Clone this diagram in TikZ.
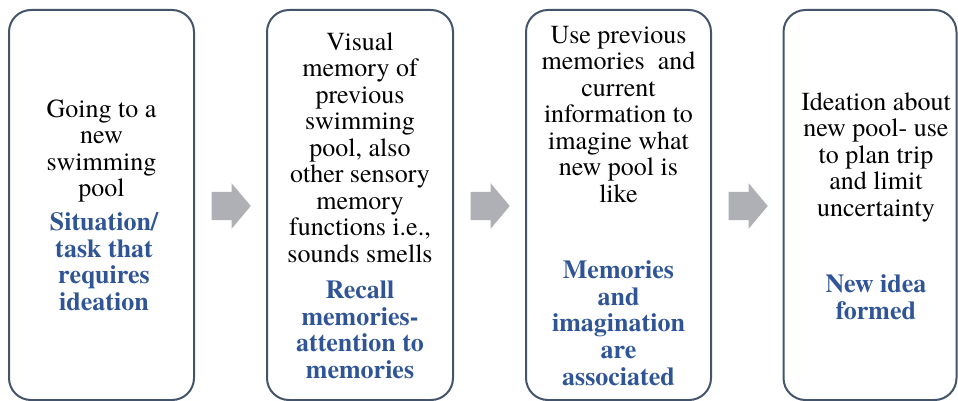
\documentclass[tikz,border=0pt]{standalone}
\usepackage{fontspec}
\setmainfont{texgyretermes}[Extension=.otf, UprightFont=*-regular, BoldFont=*-bold]
\usetikzlibrary{shapes.arrows}
\definecolor{boxline}{HTML}{44546A}
\definecolor{arrowgray}{HTML}{AEB0B5}
\definecolor{headblue}{HTML}{2F5597}
\tikzset{
  stage/.style={draw=boxline, line width=2pt, rounded corners=22pt,
    minimum height=390pt, inner sep=0pt},
  bodytext/.style={align=center, inner sep=0pt, anchor=north,
    font=\fontsize{26}{26.5}\selectfont},
  bluetext/.style={bodytext, text=headblue,
    font=\fontsize{26}{26.8}\selectfont\bfseries},
  flow/.style={single arrow, fill=arrowgray, draw=none, minimum height=39pt,
    inner xsep=0pt, inner ysep=14pt, single arrow head extend=8.5pt,
    single arrow tip angle=100, anchor=tip}
}
% strut fixing the top of the first line 18pt above its baseline
\newcommand{\topstrut}{\rule{0pt}{18pt}}
\begin{document}
\begin{tikzpicture}[x=1pt, y=-1pt]
  \useasboundingbox (0,0) rectangle (958,401);

  % the four stages
  \node[stage, minimum width=185pt] (b1) at (101.5,205) {};
  \node[stage, minimum width=186pt] (b2) at (360,205) {};
  \node[stage, minimum width=185pt] (b3) at (618.5,205) {};
  \node[stage, minimum width=173pt] (b4) at (870,205) {};

  % block arrows between stages
  \node[flow] (a1) at (251,206) {};
  \node[flow] (a2) at (510,206) {};
  \node[flow] (a3) at (768,206) {};

  % stage 1
  \node[bodytext] (t1) at (101.5,99) {\topstrut Going to a\\ new\\ swimming\\ pool};
  \node[bluetext] (h1) at (104,212) {\topstrut Situation/\\ task that\\ requires\\ ideation};

  % stage 2
  \node[bodytext] (t2) at (360,32) {\topstrut Visual\\ memory of\\ previous\\ swimming\\ pool, also\\ other sensory\\ memory\\ functions i.e.,\\ sounds smells};
  \node[bluetext] (h2) at (360,280) {\topstrut Recall\\ memories-\\ attention to\\ memories};

  % stage 3
  \node[bodytext] (t3) at (618.5,25) {\topstrut Use previous\\ memories\ \ and\\ current\\ information to\\ imagine what\\ new pool is\\ like};
  \node[bluetext] (h3) at (618.5,260) {\topstrut Memories\\ and\\ imagination\\ are\\ associated};

  % stage 4
  \node[bodytext] (t4) at (876,92) {\topstrut Ideation about\\ new pool- use\\ to plan trip\\ and limit\\ uncertainty};
  \node[bluetext] (h4) at (876,274) {\topstrut New idea\\ formed};
\end{tikzpicture}
\end{document}
